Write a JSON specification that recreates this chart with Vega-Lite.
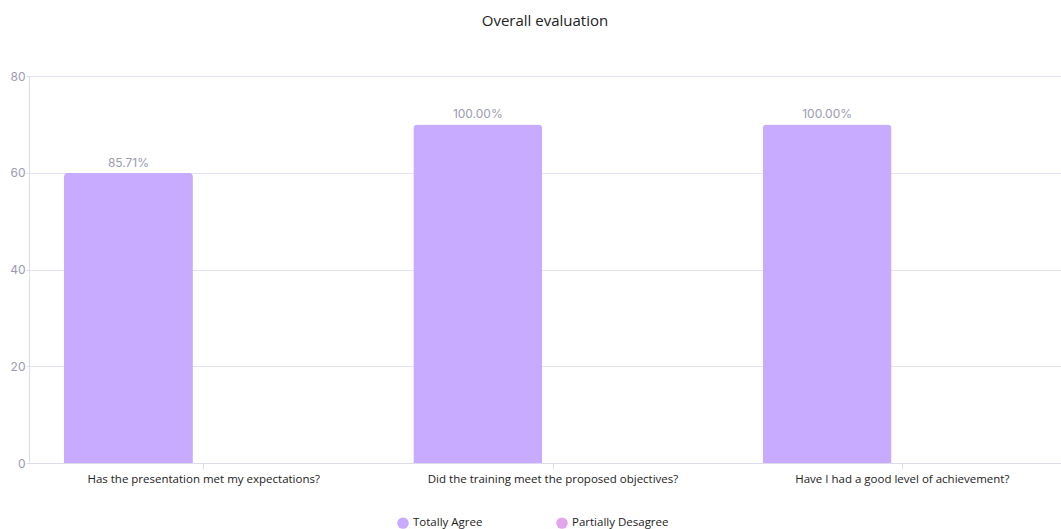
{
  "$schema": "https://vega.github.io/schema/vega-lite/v6.json",
  "width": 1032,
  "height": 387,
  "autosize": {"type": "none"},
  "padding": {"left": 29, "top": 76, "right": 0, "bottom": 66},
  "background": "white",
  "title": {
    "text": "Overall evaluation",
    "font": "Open Sans",
    "fontSize": 15,
    "fontWeight": "normal",
    "color": "#222222",
    "anchor": "middle",
    "offset": 41
  },
  "data": {
    "values": [
      {"question": "Has the presentation met my expectations?", "answer": "Totally Agree", "count": 60, "label": "85.71%"},
      {"question": "Has the presentation met my expectations?", "answer": "Partially Desagree", "count": 0, "label": ""},
      {"question": "Did the training meet the proposed objectives?", "answer": "Totally Agree", "count": 70, "label": "100.00%"},
      {"question": "Did the training meet the proposed objectives?", "answer": "Partially Desagree", "count": 0, "label": ""},
      {"question": "Have I had a good level of achievement?", "answer": "Totally Agree", "count": 70, "label": "100.00%"},
      {"question": "Have I had a good level of achievement?", "answer": "Partially Desagree", "count": 0, "label": ""}
    ]
  },
  "encoding": {
    "x": {
      "field": "question",
      "type": "nominal",
      "sort": null,
      "scale": {"paddingInner": 0, "paddingOuter": 0, "range": [0, 1048]},
      "axis": {
        "title": null,
        "labelAngle": 0,
        "labelFont": "Open Sans",
        "labelFontSize": 11.5,
        "labelLimit": 0,
        "labelColor": "#222222",
        "labelPadding": 4,
        "domainColor": "#dcdcec",
        "tickColor": "#dcdcec",
        "tickSize": 6,
        "grid": false
      }
    },
    "xOffset": {
      "field": "answer",
      "type": "nominal",
      "sort": ["Totally Agree", "Partially Desagree"],
      "scale": {"paddingInner": 0.143, "paddingOuter": 0.2326}
    },
    "y": {
      "field": "count",
      "type": "quantitative",
      "scale": {"domain": [0, 80]},
      "axis": {
        "title": null,
        "values": [0, 20, 40, 60, 80],
        "labelFont": "Inter",
        "labelFontSize": 12,
        "labelColor": "#9b9bb0",
        "labelPadding": 1,
        "labelOverlap": false,
        "domainColor": "#dcdcec",
        "tickColor": "#dcdcec",
        "tickSize": 3,
        "gridColor": "#e2e2f2"
      }
    }
  },
  "layer": [
    {
      "mark": {"type": "bar", "cornerRadiusTopLeft": 4, "cornerRadiusTopRight": 4},
      "encoding": {
        "color": {
          "field": "answer",
          "type": "nominal",
          "sort": ["Totally Agree", "Partially Desagree"],
          "scale": {"domain": ["Totally Agree", "Partially Desagree"], "range": ["#c8aafe", "#e2a4ea"]},
          "legend": {
            "title": null,
            "orient": "none",
            "legendX": 368,
            "legendY": 441,
            "direction": "horizontal",
            "symbolType": "circle",
            "symbolSize": 130,
            "symbolStrokeWidth": 0,
            "labelFont": "Open Sans",
            "labelFontSize": 11.5,
            "labelColor": "#222222",
            "columnPadding": 73
          }
        }
      }
    },
    {
      "mark": {"type": "text", "dy": -10, "font": "Inter", "fontSize": 12, "color": "#9b9bb0"},
      "encoding": {
        "text": {"field": "label"}
      }
    }
  ],
  "config": {
    "view": {"stroke": null}
  }
}
